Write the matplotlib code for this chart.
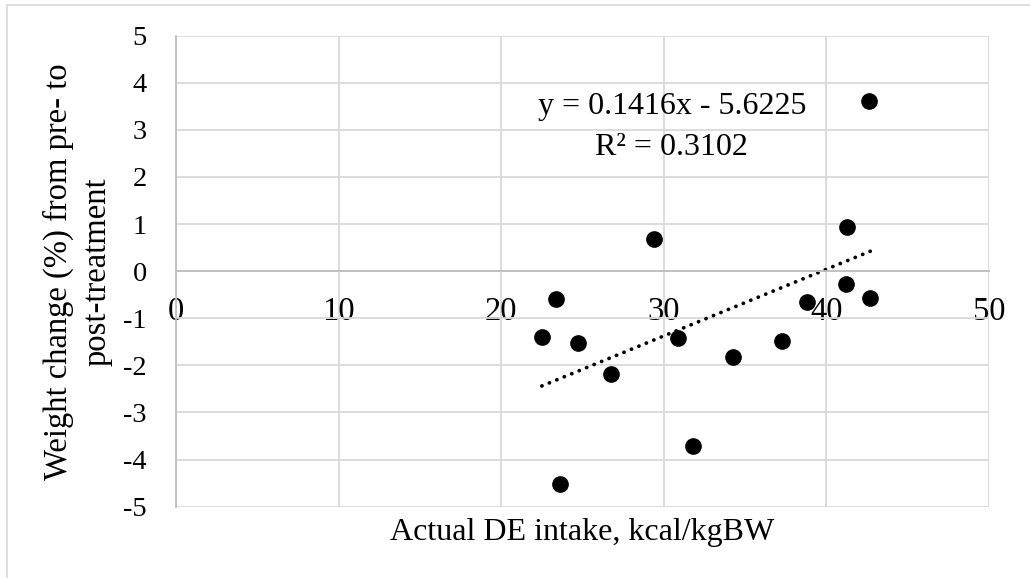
import matplotlib
matplotlib.use('Agg')
import matplotlib.pyplot as plt
from matplotlib.patches import Rectangle
import numpy as np

# values
de_intake = [22.5, 23.4, 23.6, 24.7, 26.75, 29.4, 30.9, 31.8, 34.25, 37.25, 38.8, 41.2, 41.25, 42.6, 42.7]
weight_change = [-1.39, -0.58, -4.52, -1.53, -2.18, 0.69, -1.41, -3.72, -1.82, -1.49, -0.65, -0.27, 0.94, 3.61, -0.57]
slope = 0.1416
intercept = -5.6225
r_squared = 0.3102
x_ticks = [0, 10, 20, 30, 40, 50]
y_ticks = [-5, -4, -3, -2, -1, 0, 1, 2, 3, 4, 5]

plt.rcParams['font.family'] = ['Liberation Serif', 'DejaVu Serif']
plt.rcParams['axes.unicode_minus'] = False

fig = plt.figure(figsize=(10.3, 5.78), dpi=100)
ax = fig.add_axes([176 / 1030, 1 - 506.7 / 578, (989 - 176) / 1030, (506.7 - 35.7) / 578])

# outer chart border (only left/top visible in the crop)
fig.patches.append(Rectangle((6.5 / 1030, -0.1), 1.2, 1 - 5 / 578 + 0.1, transform=fig.transFigure,
                             fill=False, edgecolor='#d9d9d9', linewidth=1.2))

ax.plot(de_intake, weight_change, 'o', color='black', markersize=11, zorder=3, clip_on=False)

xs = np.array([min(de_intake), max(de_intake)])
ax.plot(xs, slope * xs + intercept, color='black', linewidth=2.7,
        linestyle=(0, (0.05, 2.1)), dash_capstyle='round', zorder=2)

ax.text(30.5, 3.07, 'y = %.4fx - %.4f\nR² = %.4f' % (slope, -intercept, r_squared),
        ha='center', va='center', multialignment='center', fontsize=23, linespacing=1.54)

ax.set_xlim(0, 50)
ax.set_ylim(-5, 5)
ax.set_xticks(x_ticks)
ax.set_yticks(y_ticks)
ax.grid(True, color='#d9d9d9', linewidth=1.3)
ax.set_axisbelow(True)

ax.spines['top'].set_visible(False)
ax.spines['right'].set_visible(False)
ax.spines['bottom'].set_position(('data', 0))
for s in ['left', 'bottom']:
    ax.spines[s].set_color('#bfbfbf')
    ax.spines[s].set_linewidth(1.3)

ax.tick_params(axis='x', length=0, pad=18.2, labelsize=23.5)
ax.tick_params(axis='y', length=0, pad=21, labelsize=20.5)

ax.set_xlabel('Actual DE intake, kcal/kgBW', fontsize=23)
ax.xaxis.set_label_coords(0.5, -0.023)
ax.set_ylabel('Weight change (%) from pre- to\npost-treatment', fontsize=23.5,
              va='center', linespacing=1.36)
ax.yaxis.set_label_coords(-0.121, 0.5)

fig.savefig('out.png', dpi=100)
